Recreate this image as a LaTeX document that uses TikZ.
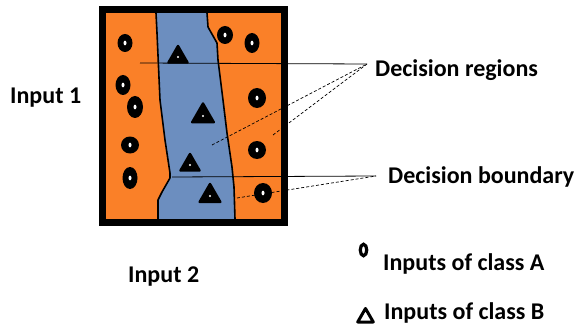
\documentclass[tikz,border=0pt]{standalone}
\usepackage{fontspec}
\setmainfont{Carlito}
\usetikzlibrary{shapes.geometric}
\definecolor{regorange}{RGB}{250,128,40}
\definecolor{regblue}{RGB}{108,142,191}
\begin{document}
\begin{tikzpicture}[x=1pt,y=-1pt,
  lbl/.style={font=\bfseries\fontsize{24}{25}\selectfont, inner sep=0pt, anchor=base west},
  boundaryline/.style={black, line width=1.6pt, line join=round, line cap=round},
  leader/.style={black, line width=0.8pt},
  leaderdash/.style={black, line width=0.7pt, densely dashed},
  classa/.style={ellipse, fill=black, inner sep=0pt,
    path picture={\fill[white] (path picture bounding box.center) ellipse (1.5pt and 2.4pt);}},
  classb/.style={regular polygon, regular polygon sides=3, fill=black, draw=black,
    line width=2.4pt, line join=round, inner sep=0pt, minimum size=#1,
    path picture={\fill[white] ([yshift=-0.25*#1/2]path picture bounding box.center) circle (1.2pt);}},
]
\useasboundingbox (0,0) rectangle (579,329);

% regions
\fill[regorange] (106,13) rectangle (281,219);
\fill[regblue] (156,13) -- (157,33) -- (160,100) -- (165,140) -- (170,173) -- (170,178)
  -- (162,192) -- (158,200) -- (158,219) -- (235,219) -- (234,187) -- (232,167)
  -- (227,133) -- (223,100) -- (218,60) -- (217,43) -- (208,27) -- (207,13) -- cycle;
\draw[boundaryline] (156,13) -- (157,33) -- (160,100) -- (165,140) -- (170,173) -- (170,178)
  -- (162,192) -- (158,200) -- (158,219);
\draw[boundaryline] (207,13) -- (208,27) -- (217,43) -- (218,60) -- (223,100) -- (227,133)
  -- (232,167) -- (234,187) -- (235,219);

% labels
\node[lbl] (in1) at (10,103) {Input 1};
\node[lbl] (in2) at (128,282) {Input 2};
\node[lbl] (lregions) at (375,77) {Decision regions};
\node[lbl] (lboundary) at (388,183) {Decision boundary};
\node[lbl] (lclassa) at (383,270) {Inputs of class A};
\node[lbl] (lclassb) at (384,319) {Inputs of class B};

% leader lines
\coordinate (dr) at (367,64);
\coordinate (db) at (376,176);
\coordinate (pr1) at (140,63);
\coordinate (pr2) at (212,145);
\coordinate (pr3) at (273,135);
\coordinate (pb1) at (172,177);
\coordinate (pb2) at (237,198);
\draw[leader] (pr1) -- (dr);
\draw[leaderdash] (pr2) -- (dr);
\draw[leaderdash] (pr3) -- (dr);
\draw[leader] (pb1) -- (db);
\draw[leaderdash] (pb2) -- (db);

% class A markers
\node[classa, minimum width=15pt, minimum height=18pt] (a1) at (125,43) {};
\node[classa, minimum width=15pt, minimum height=20pt] (a2) at (123,85) {};
\node[classa, minimum width=16pt, minimum height=22pt] (a3) at (135,107) {};
\node[classa, minimum width=18pt, minimum height=17pt] (a4) at (130,145) {};
\node[classa, minimum width=15pt, minimum height=22pt] (a5) at (130,178) {};
\node[classa, minimum width=16pt, minimum height=18pt] (a6) at (225,35) {};
\node[classa, minimum width=15pt, minimum height=20pt] (a7) at (252,43) {};
\node[classa, minimum width=18pt, minimum height=20pt] (a8) at (257,98) {};
\node[classa, minimum width=18pt, minimum height=18pt] (a9) at (257,150) {};
\node[classa, minimum width=18pt, minimum height=20pt] (a10) at (263,193) {};

% class B markers
\node[classb=22pt] (b1) at (178,57) {};
\node[classb=25pt] (b2) at (203,116) {};
\node[classb=22pt] (b3) at (190,165) {};
\node[classb=24pt] (b4) at (210,196) {};

% frame
\draw[black, line width=7pt] (102.7,9.7) rectangle (284.7,222.7);

% legend markers
\node[ellipse, draw=black, line width=3.2pt, fill=white, inner sep=0pt,
  minimum width=6.5pt, minimum height=11.5pt] (legA) at (363.5,250) {};
\node[regular polygon, regular polygon sides=3, draw=black, fill=white, line width=3pt,
  line join=round, inner sep=0pt, minimum size=18pt] (legB) at (365.5,317.5) {};
\end{tikzpicture}
\end{document}
